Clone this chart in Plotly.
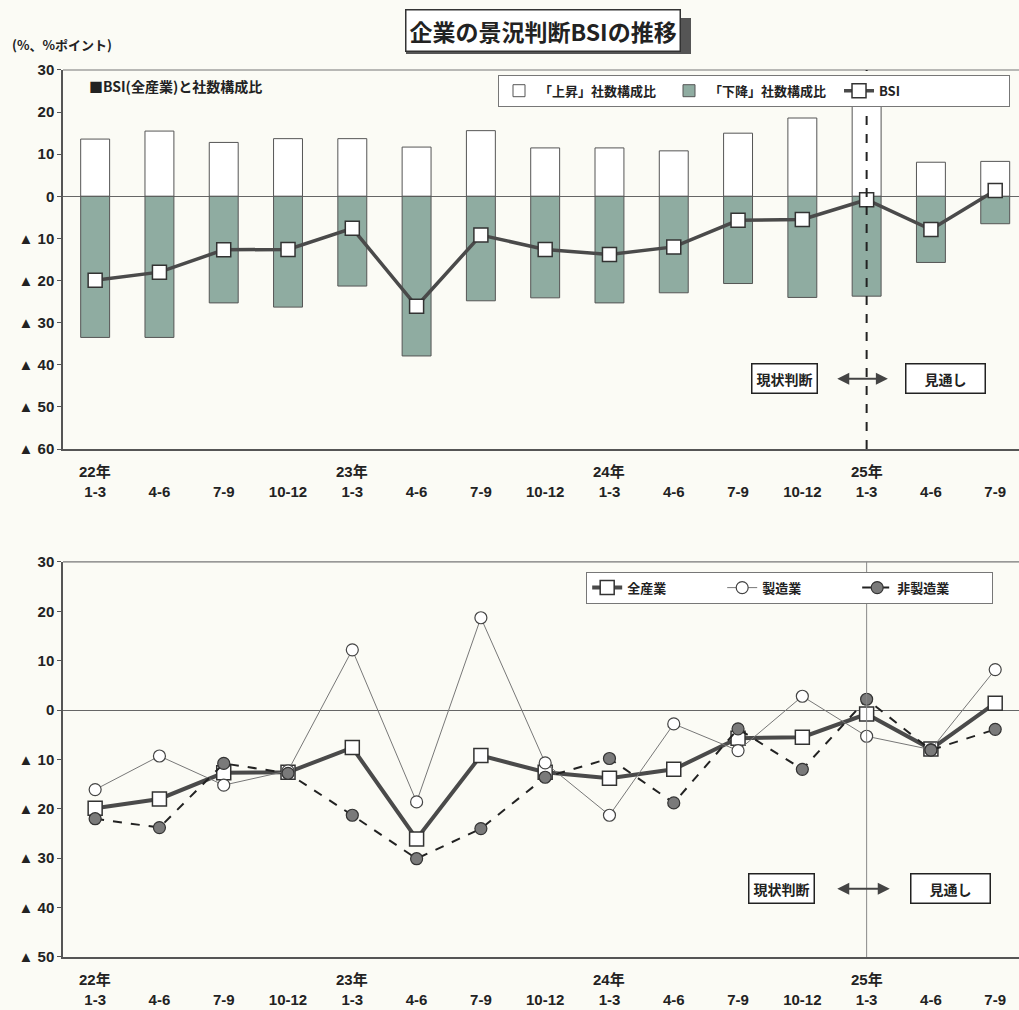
import plotly.graph_objects as go

# ---------------- data ----------------
quarters = ["1-3", "4-6", "7-9", "10-12", "1-3", "4-6", "7-9", "10-12",
            "1-3", "4-6", "7-9", "10-12", "1-3", "4-6", "7-9"]
year_labels = ["22年", "23年", "24年", "25年"]
year_positions = [0, 4, 8, 12]

up_share = [13.6, 15.5, 12.8, 13.7, 13.7, 11.7, 15.6, 11.5, 11.5, 10.8, 15.0, 18.6, 22.9, 8.1, 8.3]
down_share = [-33.5, -33.5, -25.3, -26.3, -21.3, -37.9, -24.8, -24.1, -25.3, -22.9, -20.7, -24.0, -23.7, -15.7, -6.5]
bsi_all = [-19.9, -18.0, -12.7, -12.6, -7.6, -26.1, -9.2, -12.6, -13.8, -12.0, -5.7, -5.5, -0.8, -7.9, 1.4]
bsi_mfg = [-16.1, -9.3, -15.2, -12.3, 12.2, -18.6, 18.7, -10.7, -21.3, -2.8, -8.2, 2.8, -5.3, -8.0, 8.2]
bsi_nonmfg = [-22.0, -23.8, -10.8, -12.8, -21.3, -30.1, -24.0, -13.6, -9.8, -18.8, -3.8, -12.0, 2.2, -8.1, -3.9]

top_ticks = [30, 20, 10, 0, -10, -20, -30, -40, -50, -60]
top_ticktext = ["30", "20", "10", "0", "▲ 10", "▲ 20", "▲ 30", "▲ 40", "▲ 50", "▲ 60"]
bot_ticks = [30, 20, 10, 0, -10, -20, -30, -40, -50]
bot_ticktext = ["30", "20", "10", "0", "▲ 10", "▲ 20", "▲ 30", "▲ 40", "▲ 50"]

divider_index = 12

# ---------------- styling ----------------
FONT = "Liberation Sans Narrow, Liberation Sans, Noto Sans CJK JP, sans-serif"
JFONT = "Noto Sans CJK JP, sans-serif"
BG = "#fbfbf5"
BAR_FILL = "#8faca1"
LINE_DARK = "#4a4a4a"

x = list(range(len(quarters)))

fig = go.Figure()

# top chart
fig.add_trace(go.Bar(x=x, y=up_share, width=0.45, name="「上昇」社数構成比",
                     marker=dict(color="#ffffff", line=dict(color="#555555", width=1)),
                     xaxis="x", yaxis="y", legend="legend"))
fig.add_trace(go.Bar(x=x, y=down_share, width=0.45, name="「下降」社数構成比",
                     marker=dict(color=BAR_FILL, line=dict(color="#555555", width=1)),
                     xaxis="x", yaxis="y", legend="legend"))
fig.add_trace(go.Scatter(x=x, y=bsi_all, mode="lines+markers", name="BSI",
                         line=dict(color=LINE_DARK, width=3.5),
                         marker=dict(symbol="square", size=14, color="#ffffff",
                                     line=dict(color="#333333", width=1.5)),
                         xaxis="x", yaxis="y", legend="legend"))

# bottom chart
fig.add_trace(go.Scatter(x=x, y=bsi_all, mode="lines+markers", name="全産業",
                         line=dict(color=LINE_DARK, width=4),
                         marker=dict(symbol="square", size=14, color="#ffffff",
                                     line=dict(color="#333333", width=1.5)),
                         xaxis="x2", yaxis="y2", legend="legend2"))
fig.add_trace(go.Scatter(x=x, y=bsi_mfg, mode="lines+markers", name="製造業",
                         line=dict(color="#777777", width=1),
                         marker=dict(symbol="circle", size=12, color="#ffffff",
                                     line=dict(color="#444444", width=1.2)),
                         xaxis="x2", yaxis="y2", legend="legend2"))
fig.add_trace(go.Scatter(x=x, y=bsi_nonmfg, mode="lines+markers", name="非製造業",
                         line=dict(color="#222222", width=2, dash="dash"),
                         marker=dict(symbol="circle", size=12, color="#7a7a7a",
                                     line=dict(color="#333333", width=1.2)),
                         xaxis="x2", yaxis="y2", legend="legend2"))

xr = [-0.5, 14.37]
tickfont = dict(family=FONT, size=15, color="#222222", weight="bold")

common_x = dict(range=xr, tickmode="array", tickvals=x, ticktext=quarters,
                tickfont=tickfont, showgrid=False, zeroline=False, showline=True,
                linecolor="#555555", linewidth=1.5, ticks="", ticklabelstandoff=28,
                automargin=False, fixedrange=True)

common_y = dict(tickmode="array", tickfont=tickfont, showgrid=False, zeroline=True,
                zerolinecolor="#666666", zerolinewidth=1, showline=True,
                linecolor="#555555", linewidth=1.5, ticks="outside", ticklen=4,
                tickcolor="#555555", automargin=False, fixedrange=True)

legend_font = dict(family=JFONT, size=13, color="#222222", weight="bold")

fig.update_layout(
    width=1019, height=1010,
    paper_bgcolor=BG, plot_bgcolor=BG,
    margin=dict(l=63, r=0, t=0, b=0, autoexpand=False),
    barmode="overlay",
    showlegend=True,
    xaxis=dict(domain=[0, 1], anchor="y", **common_x),
    yaxis=dict(domain=[0.5554, 0.9307], range=[-60, 30], tickvals=top_ticks,
               ticktext=top_ticktext, anchor="x", **common_y),
    xaxis2=dict(domain=[0, 1], anchor="y2", **common_x),
    yaxis2=dict(domain=[0.0525, 0.4436], range=[-50, 30], tickvals=bot_ticks,
                ticktext=bot_ticktext, anchor="x2", **common_y),
    legend=dict(orientation="h", x=0.9906, xanchor="right", y=0.926, yanchor="top",
                bgcolor="#ffffff", bordercolor="#777777", borderwidth=1,
                font=legend_font, entrywidth=125, traceorder="normal"),
    legend2=dict(orientation="h", x=0.973, xanchor="right", y=0.434, yanchor="top",
                 bgcolor="#ffffff", bordercolor="#777777", borderwidth=1,
                 font=legend_font, entrywidth=90, traceorder="normal"),
)

shapes = []
# top borders of the plot frames
for yref in ["y domain", "y2 domain"]:
    xref = "x domain" if yref == "y domain" else "x2 domain"
    shapes.append(dict(type="line", xref=xref, yref=yref, x0=0, x1=1, y0=1, y1=1,
                       line=dict(color="#777777", width=1.2)))
# divider lines
shapes.append(dict(type="line", xref="x", yref="y domain", x0=divider_index, x1=divider_index,
                   y0=0, y1=1, line=dict(color="#222222", width=2, dash="dash")))
shapes.append(dict(type="line", xref="x2", yref="y2 domain", x0=divider_index, x1=divider_index,
                   y0=0, y1=1, line=dict(color="#888888", width=1)))
# drop shadow behind the title box
shapes.append(dict(type="rect", xref="paper", yref="paper",
                   x0=(406 - 63) / 956, x1=(691 - 63) / 956,
                   y0=1 - 54 / 1010, y1=1 - 18 / 1010,
                   line=dict(width=0), fillcolor="#555555", layer="above"))
fig.update_layout(shapes=shapes)

ann = []
# year labels under both charts
for xref, yref in [("x", "y domain"), ("x2", "y2 domain")]:
    for yl, yp in zip(year_labels, year_positions):
        ann.append(dict(text=yl, x=yp, xref=xref, y=0, yref=yref,
                        yanchor="top", yshift=-12, showarrow=False,
                        font=dict(family=FONT, size=15, color="#222222", weight="bold")))

# title
title_text = "企業の景況判断BSIの推移"
ann.append(dict(text=title_text, x=(543 - 63) / 956, y=1 - 30 / 1010, xref="paper", yref="paper",
                xanchor="center", yanchor="middle",
                showarrow=False, bgcolor="#ffffff", bordercolor="#333333",
                borderwidth=1.5, borderpad=3,
                font=dict(family=JFONT, size=23, color="#222222", weight="bold")))

ann.append(dict(text="(%、%ポイント)", x=-0.055, y=0.956, xref="paper", yref="paper",
                xanchor="left", yanchor="middle", showarrow=False,
                font=dict(family=JFONT, size=13, color="#222222", weight="bold")))
ann.append(dict(text="■BSI(全産業)と社数構成比", x=0.025, y=0.958,
                xref="x domain", yref="y domain", xanchor="left", yanchor="middle",
                showarrow=False, font=dict(family=JFONT, size=14, color="#222222", weight="bold")))

# 現状判断 / 見通し boxes and arrows
for xref, yref, yv, lx, rx, a0, a1 in [("x", "y", -43.3, 10.73, 13.23, 11.52, 12.33),
                                        ("x2", "y2", -36.2, 10.68, 13.30, 11.52, 12.36)]:
    ann.append(dict(text="現状判断", x=lx, y=yv, xref=xref, yref=yref, showarrow=False,
                    bgcolor="#ffffff", bordercolor="#222222", borderwidth=1.5, borderpad=4,
                    font=dict(family=JFONT, size=14, color="#222222", weight="bold")))
    ann.append(dict(text="　見通し　", x=rx, y=yv, xref=xref, yref=yref, showarrow=False,
                    bgcolor="#ffffff", bordercolor="#222222", borderwidth=1.5, borderpad=4,
                    font=dict(family=JFONT, size=14, color="#222222", weight="bold")))
    ann.append(dict(text="", x=a1, y=yv, ax=a0, ay=yv, xref=xref, yref=yref,
                    axref=xref, ayref=yref, showarrow=True, arrowhead=2, startarrowhead=2,
                    arrowside="end+start", arrowsize=1.2, arrowwidth=2, arrowcolor="#444444"))

fig.update_layout(annotations=ann)

fig.write_html("out.html", config={"displayModeBar": False},
               post_script="document.body.style.margin='0';document.body.style.overflow='hidden';")
